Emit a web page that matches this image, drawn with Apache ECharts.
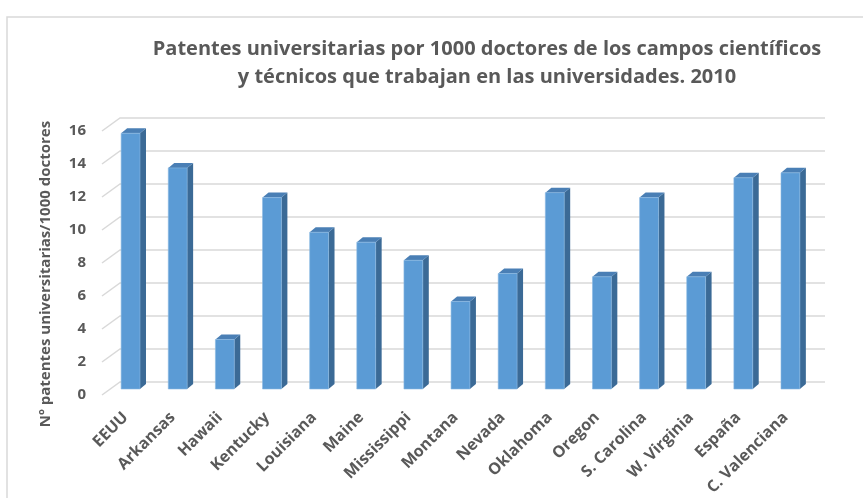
<!DOCTYPE html>
<html>
<head>
<meta charset="utf-8">
<script src="https://cdn.jsdelivr.net/npm/echarts@6/dist/echarts.min.js"></script>
<style>
  html, body { margin: 0; padding: 0; background: #fff; }
  #chart { width: 863px; height: 498px; }
</style>
</head>
<body>
<div id="chart"></div>
<script>
// datos
const categorias = ['EEUU', 'Arkansas', 'Hawaii', 'Kentucky', 'Louisiana', 'Maine', 'Mississippi',
  'Montana', 'Nevada', 'Oklahoma', 'Oregon', 'S. Carolina', 'W. Virginia', 'España', 'C. Valenciana'];
const patentes = [15.5, 13.4, 3.0, 11.6, 9.5, 8.9, 7.8, 5.3, 7.0, 11.9, 6.8, 11.6, 6.8, 12.8, 13.1];
const ticksY = [0, 2, 4, 6, 8, 10, 12, 14, 16];

const gris = '#595959';
const fuente = 'Open Sans';

const chart = echarts.init(document.getElementById('chart'));

// barra con cara frontal, lateral y superior (efecto 3D)
function dibujarBarra(params, api) {
  const base = api.coord([api.value(0), 0]);
  const cima = api.coord([api.value(0), api.value(1)]);
  const w = api.size([1, 0])[0] * 0.4;
  const dx = 6, dy = -5;
  const x0 = base[0] - w / 2, x1 = x0 + w;
  return {
    type: 'group',
    children: [
      { type: 'polygon', shape: { points: [[x1, cima[1]], [x1 + dx, cima[1] + dy], [x1 + dx, base[1] + dy], [x1, base[1]]] },
        style: { fill: '#3b6a96' } },
      { type: 'polygon', shape: { points: [[x0, cima[1]], [x0 + dx, cima[1] + dy], [x1 + dx, cima[1] + dy], [x1, cima[1]]] },
        style: { fill: '#4a7fb5' } },
      { type: 'rect', shape: { x: x0, y: cima[1], width: w, height: base[1] - cima[1] },
        style: { fill: '#5b9bd5', stroke: '#8ab8e3', lineWidth: 0.6 } }
    ]
  };
}

// líneas de división en la pared del fondo
function dibujarRejilla(params, api) {
  const y = api.coord([0, api.value(0)])[1];
  const cs = params.coordSys;
  const xf = cs.x - 5, xb = cs.x + 13, xe = cs.x + cs.width + 11;
  return {
    type: 'polyline',
    shape: { points: [[xf, y + 6], [xb, y - 7], [xe, y - 7]] },
    style: { stroke: '#d9d9d9', lineWidth: 1.5, fill: null }
  };
}

const option = {
  backgroundColor: '#fff',
  animation: false,
  title: {
    text: 'Patentes universitarias por 1000 doctores de los campos científicos\ny técnicos que trabajan en las universidades. 2010',
    left: 482,
    top: 30,
    textAlign: 'center',
    textStyle: { color: gris, fontFamily: fuente, fontSize: 20, fontWeight: 'bold', lineHeight: 28 }
  },
  graphic: [
    { type: 'rect', shape: { x: 7, y: 17, width: 900, height: 600 },
      style: { fill: null, stroke: '#d9d9d9', lineWidth: 1.5 }, z: -10 },
    { type: 'text', x: 46, y: 274, rotation: Math.PI / 2,
      style: { text: 'Nº patentes universitarias/1000 doctores', fill: gris, font: 'bold 15px "Open Sans"',
        align: 'center', verticalAlign: 'middle' } }
  ],
  grid: [
    { left: 107, right: 49, top: 125, bottom: 109, outerBoundsMode: 'none' },
    // plano delantero, solo para las etiquetas del eje Y
    { left: 107, right: 49, top: 131, bottom: 103, outerBoundsMode: 'none' }
  ],
  xAxis: [
    {
      type: 'category',
      data: categorias,
      axisLine: { show: false },
      axisTick: { show: false },
      axisLabel: { rotate: 45, interval: 0, margin: 21, padding: [0, 7, 0, 0], color: gris,
        fontFamily: fuente, fontSize: 16, fontWeight: 'bold' }
    },
    { type: 'category', gridIndex: 1, data: categorias, show: false }
  ],
  yAxis: [
    { type: 'value', min: 0, max: 16, interval: 2, show: false },
    {
      type: 'value',
      gridIndex: 1,
      min: 0,
      max: 16,
      interval: 2,
      axisLine: { show: false },
      axisTick: { show: false },
      splitLine: { show: false },
      axisLabel: { margin: 21, color: gris, fontFamily: fuente, fontSize: 15, fontWeight: 'bold' }
    }
  ],
  series: [
    {
      type: 'custom',
      renderItem: dibujarRejilla,
      data: ticksY.map(v => [v]),
      encode: { y: 0 },
      silent: true,
      z: 1
    },
    {
      type: 'custom',
      renderItem: dibujarBarra,
      data: patentes.map((v, i) => [i, v]),
      encode: { x: 0, y: 1 },
      z: 2
    }
  ]
};

chart.setOption(option);
</script>
</body>
</html>
